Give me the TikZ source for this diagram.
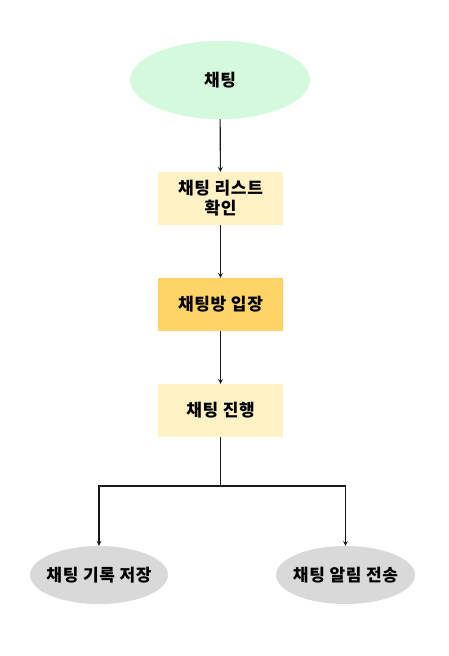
\documentclass[tikz,border=0pt]{standalone}
\usepackage{fontspec}
\usepackage{tikz}
\usetikzlibrary{arrows,shapes}
\newfontfamily\kr{Noto Sans CJK KR}[BoldFont={Noto Sans CJK KR Black}, LetterSpace=4]
\definecolor{startgreen}{HTML}{D5F9DC}
\definecolor{lightyellow}{HTML}{FFF2C4}
\definecolor{darkyellow}{HTML}{FFD467}
\definecolor{endgray}{HTML}{D9D9D9}
\tikzstyle{flow}=[every node/.style={text=black,font=\kr\bfseries\fontsize{17}{20}\selectfont,
                inner sep=0pt}, x=1pt, y=-1pt]
\tikzstyle{oval}=[ellipse, draw=none, inner xsep=-25pt]
\tikzstyle{stepbox}=[rectangle, draw=none, minimum width=125pt, minimum height=53pt,
                align=center]
\tikzstyle{link}=[->, >=stealth, line width=1.1pt, draw=black!90]

\begin{document}
\begin{tikzpicture}[flow]
\path[use as bounding box] (0,0) rectangle (449,656);
\node[oval, fill=startgreen, minimum width=180pt, minimum height=78pt] (chat) at (220,80) {채팅};
\node[stepbox, fill=lightyellow] (list) at (220.5,198.5) {채팅 리스트\\확인};
\node[stepbox, fill=darkyellow] (enter) at (220.5,304.5) {채팅방 입장};
\node[stepbox, fill=lightyellow] (talk) at (220.5,410.5) {채팅 진행};
\node[oval, fill=endgray, minimum width=138pt, minimum height=58pt] (save) at (99,575) {채팅 기록 저장};
\node[oval, fill=endgray, minimum width=139pt, minimum height=58pt] (alarm) at (345.5,575) {채팅 알림 전송};
\coordinate (split) at (220.5,486);
\draw[link] (chat) -- (list);
\draw[link] (list) -- (enter);
\draw[link] (enter) -- (talk);
\draw[line width=1.1pt, draw=black!90] (talk) -- (split);
\draw[link] (split) -| (save);
\draw[link] (split) -| (alarm);
\end{tikzpicture}
\end{document}
